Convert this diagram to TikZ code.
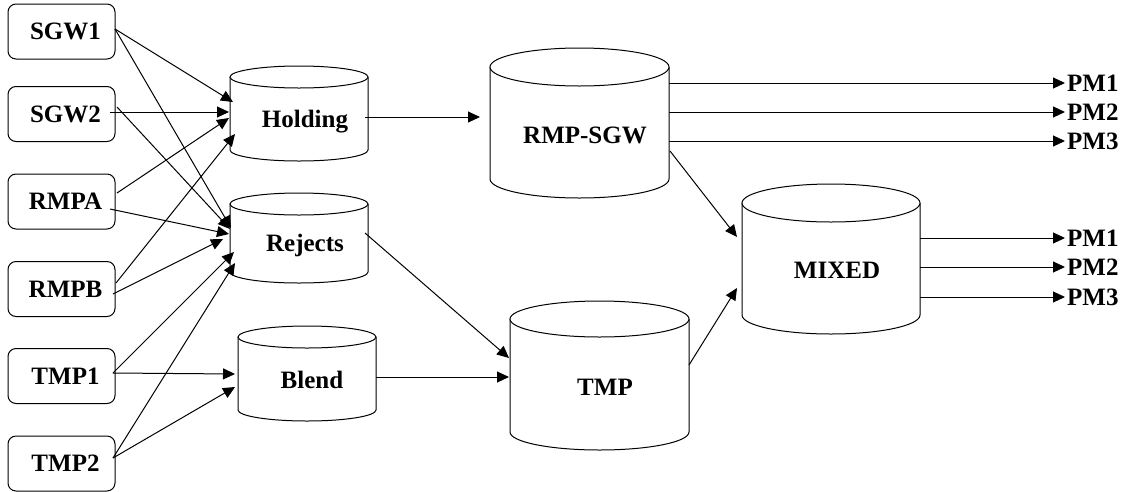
\documentclass[tikz,border=0pt]{standalone}
\usepackage{fontspec}
\setmainfont{Liberation Serif}
\usetikzlibrary{arrows.meta}
\newcommand\mycyl[7]{%
  \pgfmathsetmacro\cylcx{(#2+#3)/2}%
  \pgfmathsetmacro\cylrx{(#3-#2)/2}%
  \pgfmathsetmacro\cylct{-(#4+#6)}%
  \pgfmathsetmacro\cylcb{-(#5-#6)}%
  \draw[cylline] (#2,\cylct) -- (#2,\cylcb) arc[start angle=180, end angle=360, x radius=\cylrx, y radius=#6] -- (#3,\cylct);
  \draw[cylline] (\cylcx,\cylct) ellipse[x radius=\cylrx, y radius=#6];
  \node[lbl] (#1) at (#7) {};
}
\begin{document}
\begin{tikzpicture}[x=1pt,y=1pt,
  cylline/.style={line width=1pt, fill=white},
  lbl/.style={font=\fontsize{25}{30}\selectfont\bfseries, inner sep=0pt},
  srcbox/.style={draw, line width=1pt, rounded corners=8pt, minimum width=107pt, minimum height=55pt, inner sep=0pt, font=\fontsize{25}{30}\selectfont\bfseries},
  arr/.style={line width=1pt, -{Triangle[length=12pt, width=11pt]}},
  pmlbl/.style={anchor=west, inner sep=2pt, font=\fontsize{25}{30}\selectfont\bfseries}]
\useasboundingbox (0,0) rectangle (1128,-491);

% source boxes
\node[srcbox] (sgw1) at (61.5,-31.5) {\hspace{8pt}SGW1};
\node[srcbox] (sgw2) at (61.5,-114) {\hspace{8pt}SGW2};
\node[srcbox] (rmpa) at (61.5,-201.5) {\hspace{8pt}RMPA};
\node[srcbox] (rmpb) at (61.5,-289) {\hspace{8pt}RMPB};
\node[srcbox] (tmp1) at (61.5,-376) {\hspace{8pt}TMP1};
\node[srcbox] (tmp2) at (61.5,-463.5) {\hspace{8pt}TMP2};

% cylinders
\mycyl{hold}{230}{368}{66}{161}{11}{305,-122}
\node[lbl] at (hold) {Holding};
\mycyl{rej}{230}{368}{193}{283}{11}{305,-245}
\node[lbl] at (rej) {Rejects};
\mycyl{blend}{238}{376}{326}{421}{11}{312,-380}
\node[lbl] at (blend) {Blend};
\mycyl{rmpsgw}{490}{669}{48}{198}{19}{585,-135}
\node[lbl] at (rmpsgw) {RMP-SGW};
\mycyl{tmp}{510}{689}{301}{450}{18}{605,-387}
\node[lbl] at (tmp) {TMP};
\mycyl{mixed}{742}{920}{184}{334}{19}{837,-270}
\node[lbl] at (mixed) {MIXED};

% connector end points
\coordinate (s1) at (115,-29);
\coordinate (s2a) at (110,-112);
\coordinate (s2b) at (117,-107);
\coordinate (sAa) at (117,-193);
\coordinate (sAb) at (110,-209);
\coordinate (sBa) at (116,-283);
\coordinate (sBb) at (113,-294);
\coordinate (sT1) at (113,-373);
\coordinate (sT2) at (113,-458);

\coordinate (h1) at (233,-102);
\coordinate (h2) at (229,-112);
\coordinate (h3) at (229,-118);
\coordinate (h4) at (235,-134);
\coordinate (r1) at (231,-228);
\coordinate (r2) at (230,-229);
\coordinate (r3) at (229,-234);
\coordinate (r4) at (223,-239);
\coordinate (r5) at (234,-252);
\coordinate (r6) at (235,-263);
\coordinate (b1) at (235,-374);
\coordinate (b2) at (235,-387);

\draw[arr] (s1) -- (h1);
\draw[arr] (s1) -- (r1);
\draw[arr] (s2a) -- (h2);
\draw[arr] (s2b) -- (r2);
\draw[arr] (sAa) -- (h3);
\draw[arr] (sAb) -- (r3);
\draw[arr] (sBa) -- (h4);
\draw[arr] (sBb) -- (r4);
\draw[arr] (sT1) -- (r5);
\draw[arr] (sT1) -- (b1);
\draw[arr] (sT2) -- (r6);
\draw[arr] (sT2) -- (b2);

% middle connectors
\coordinate (hold-o) at (365,-117);
\coordinate (rmp-i) at (480,-117);
\coordinate (rmp-o) at (670,-151);
\coordinate (mix-i1) at (737,-237);
\coordinate (rej-o) at (365,-233);
\coordinate (tmp-i1) at (509,-358);
\coordinate (blend-o) at (376,-377);
\coordinate (tmp-i2) at (509,-377);
\coordinate (tmp-o) at (689,-365);
\coordinate (mix-i2) at (737,-288);
\draw[arr] (hold-o) -- (rmp-i);
\draw[arr] (rmp-o) -- (mix-i1);
\draw[arr] (rej-o) -- (tmp-i1);
\draw[arr] (blend-o) -- (tmp-i2);
\draw[arr] (tmp-o) -- (mix-i2);

% outputs
\node[pmlbl] (pa1) at (1065,-83) {PM1};
\node[pmlbl] (pa2) at (1065,-112) {PM2};
\node[pmlbl] (pa3) at (1065,-141) {PM3};
\node[pmlbl] (pb1) at (1065,-238) {PM1};
\node[pmlbl] (pb2) at (1065,-267) {PM2};
\node[pmlbl] (pb3) at (1065,-297) {PM3};
\draw[arr] (669,-83) -- (pa1.west);
\draw[arr] (669,-112) -- (pa2.west);
\draw[arr] (669,-141) -- (pa3.west);
\draw[arr] (920,-238) -- (pb1.west);
\draw[arr] (920,-267) -- (pb2.west);
\draw[arr] (920,-297) -- (pb3.west);
\end{tikzpicture}
\end{document}
